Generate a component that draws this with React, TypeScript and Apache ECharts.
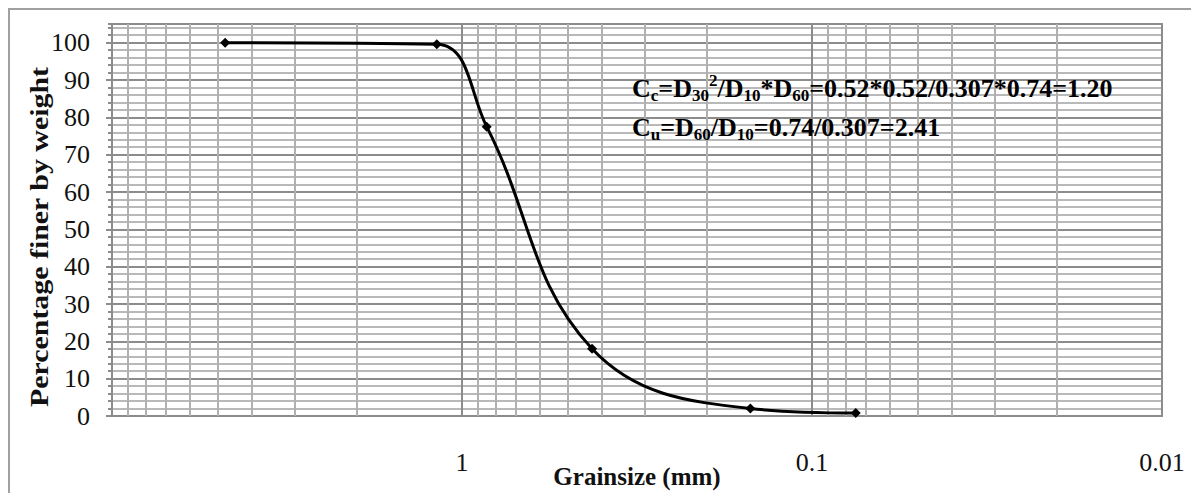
import { useEffect, useRef } from "react";
import * as echarts from "echarts";

// Sieve analysis: grain size (mm) against percentage passing
const grainSizes = [4.75, 1.18, 0.85, 0.425, 0.15, 0.075];
const percentFiner = [100, 99.6, 77.5, 18, 2, 0.8];

// Log-paper grid: decade starts and the intermediate multipliers
const decadeStarts = [1, 0.1, 0.01];
const minorMultipliers = [2, 3, 4, 5, 6, 7, 8, 9];
const xLabelValues = [1, 0.1, 0.01];

const yMin = 0;
const yMax = 105;
const yMajorStep = 10;
const yMinorStep = 2;

const ccLine =
  "{b|C}{s|c}{b|=D}{s|30}{p|2}{b|/D}{s|10}{b|*D}{s|60}{b|=0.52*0.52/0.307*0.74=1.20}";
const cuLine = "{b|C}{s|u}{b|=D}{s|60}{b|/D}{s|10}{b|=0.74/0.307=2.41}";

const serif = '"Liberation Serif", "Times New Roman", serif';

const richStyles = {
  b: { fontSize: 26, fontWeight: "bold", fontFamily: serif, lineHeight: 32, verticalAlign: "middle", color: "#111" },
  s: { fontSize: 17, fontWeight: "bold", fontFamily: serif, lineHeight: 17, verticalAlign: "bottom", color: "#111" },
  p: { fontSize: 17, fontWeight: "bold", fontFamily: serif, lineHeight: 17, verticalAlign: "top", color: "#111" },
};

export default function App() {
  const ref = useRef<HTMLDivElement>(null);

  useEffect(() => {
    if (!ref.current) return;
    const chart = echarts.init(ref.current, undefined, { renderer: "svg" });

    const minorSizes: number[] = [];
    decadeStarts.forEach((d) => minorMultipliers.forEach((m) => minorSizes.push(m * d)));

    const fmtX = (v: number) => {
      const n = Number(v.toPrecision(3));
      return xLabelValues.some((t) => Math.abs(t - n) < 1e-9) ? String(n) : "";
    };

    chart.setOption({
      animation: false,
      backgroundColor: "#ffffff",
      grid: {
        left: 112,
        right: 29,
        top: 24,
        bottom: 77,
        outerBoundsMode: "none",
        containLabel: false,
        show: true,
        backgroundColor: "#ffffff",
        borderColor: "#8c8c8c",
        borderWidth: 2,
      },
      xAxis: {
        type: "log",
        logBase: 10,
        min: 0.01,
        max: 10,
        inverse: true,
        axisLine: { show: true, lineStyle: { color: "#8c8c8c", width: 2 } },
        axisTick: { show: false },
        axisLabel: {
          margin: 33,
          fontSize: 26,
          fontFamily: serif,
          color: "#111",
          formatter: fmtX,
        },
        splitLine: { show: true, lineStyle: { color: "#8c8c8c", width: 2 } },
        name: "Grainsize (mm)",
        nameLocation: "middle",
        nameGap: 48,
        nameMoveOverlap: false,
        nameTextStyle: { fontSize: 25, fontWeight: "bold", fontFamily: serif, color: "#111" },
      },
      yAxis: [
        {
          type: "value",
          position: "left",
          min: yMin,
          max: yMax,
          interval: yMinorStep,
          axisLine: { show: false },
          axisTick: { show: true, length: 4, lineStyle: { color: "#8c8c8c", width: 2 } },
          axisLabel: { show: false },
          splitLine: { show: true, lineStyle: { color: "#b9b9b9", width: 2 } },
        },
        {
          type: "value",
          position: "left",
          offset: 0,
          min: yMin,
          max: yMax,
          interval: yMajorStep,
          axisLine: { show: true, lineStyle: { color: "#8c8c8c", width: 2 } },
          axisTick: { show: true, length: 6, lineStyle: { color: "#8c8c8c", width: 2 } },
          axisLabel: {
            margin: 22,
            fontSize: 26,
            fontFamily: serif,
            color: "#111",
            showMaxLabel: false,
          },
          splitLine: { show: true, lineStyle: { color: "#8c8c8c", width: 2 } },
        },
      ],
      series: [
        {
          type: "line",
          xAxisIndex: 0,
          yAxisIndex: 1,
          data: [],
          z: 1,
          silent: true,
          markLine: {
            silent: true,
            symbol: ["none", "none"],
            label: { show: false },
            lineStyle: { color: "#b0b0b0", width: 2, type: "solid" },
            data: minorSizes.map((v) => ({ xAxis: v })),
          },
        },
        {
          type: "line",
          xAxisIndex: 0,
          yAxisIndex: 1,
          z: 5,
          data: grainSizes.map((g, i) => [g, percentFiner[i]]),
          smooth: 0.4,
          symbol: "diamond",
          symbolSize: 10,
          lineStyle: { color: "#000", width: 3 },
          itemStyle: { color: "#000" },
        },
      ],
      graphic: [
        {
          type: "rect",
          silent: true,
          shape: { x: 9, y: 9, width: 1200, height: 500 },
          style: { fill: "none", stroke: "#a0a0a0", lineWidth: 2 },
        },
        {
          type: "text",
          x: 39,
          y: 237,
          rotation: Math.PI / 2,
          scaleX: 1.15,
          style: {
            text: "Percentage finer by weight",
            font: `bold 26px ${serif}`,
            fill: "#111",
            align: "center",
            verticalAlign: "middle",
          },
        },
        {
          type: "text",
          x: 632,
          y: 88,
          z: 10,
          style: { text: ccLine, rich: richStyles, align: "left", verticalAlign: "middle" },
        },
        {
          type: "text",
          x: 632,
          y: 127,
          z: 10,
          style: { text: cuLine, rich: richStyles, align: "left", verticalAlign: "middle" },
        },
      ],
    });

    return () => chart.dispose();
  }, []);

  return (
    <div
      ref={ref}
      style={{ position: "fixed", left: 0, top: 0, width: 1191, height: 493 }}
    />
  );
}
